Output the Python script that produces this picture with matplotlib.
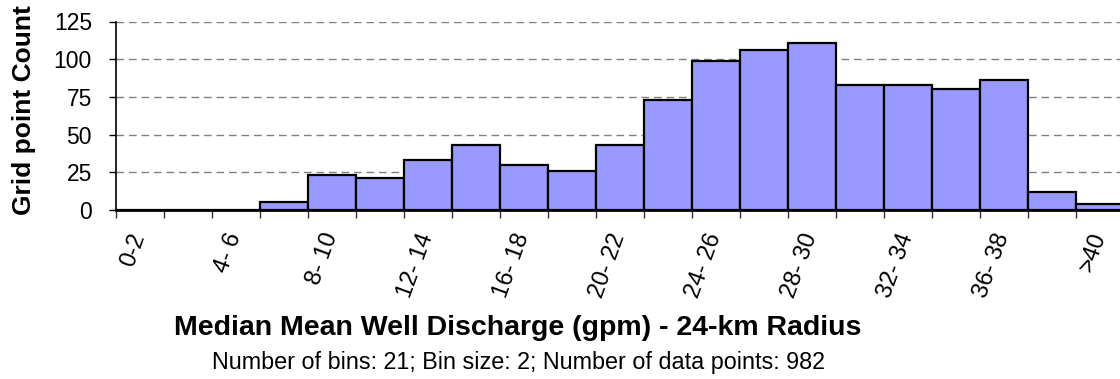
import numpy as np
import matplotlib
matplotlib.use("Agg")
import matplotlib.pyplot as plt

# bin labels and counts
bin_labels = ["0-2", "2- 4", "4- 6", "6- 8", "8- 10", "10- 12", "12- 14", "14- 16",
              "16- 18", "18- 20", "20- 22", "22- 24", "24- 26", "26- 28", "28- 30",
              "30- 32", "32- 34", "34- 36", "36- 38", "38- 40", ">40"]
counts = [0, 0, 0, 5, 23, 21, 33, 43, 30, 26, 43, 73, 99, 106, 111, 83, 83, 80, 86, 12, 4]
y_ticks = [0, 25, 50, 75, 100, 125]

plt.rcParams['font.family'] = ['Liberation Sans', 'DejaVu Sans']

fig = plt.figure(figsize=(11.2, 3.79), dpi=100)
ax = fig.add_axes([115.5 / 1120, 169 / 379, 1008 / 1120, 188.5 / 379])

x = np.arange(len(counts))
ax.bar(x, counts, width=1.0, align='edge', color='#9999FF',
       edgecolor='black', linewidth=1.6, zorder=3)

ax.set_xlim(0, len(counts))
ax.set_ylim(0, 125)

# grid
ax.set_yticks(y_ticks)
ax.yaxis.grid(True, linestyle=(0, (5.5, 3.5)), color='#808080', linewidth=1.0, zorder=0)
ax.tick_params(axis='y', length=5, width=1, labelsize=16.5, pad=12, colors='black')

# x ticks: marks at bin edges, labels on every other bin centre
ax.set_xticks(np.arange(len(counts) + 1), minor=True)
ax.set_xticks(x[::2] + 0.5)
ax.set_xticklabels(bin_labels[::2], rotation=70, ha='right', va='center',
                   rotation_mode='anchor', fontsize=17)
ax.tick_params(axis='x', which='major', length=0, pad=17)
ax.tick_params(axis='x', which='minor', length=6, width=1, color='#333333')

for s in ['top', 'right']:
    ax.spines[s].set_visible(False)
ax.spines['left'].set_linewidth(1.2)
ax.spines['bottom'].set_linewidth(2.0)
ax.spines['bottom'].set_zorder(4)

fig.text(24 / 1120, 1 - 110 / 379, "Grid point Count", rotation=90, ha='center',
         va='center', fontsize=19, fontweight='bold')
fig.text(518 / 1120, 1 - 328 / 379, "Median Mean Well Discharge (gpm) - 24-km Radius",
         ha='center', va='center', fontsize=20.5, fontweight='bold')
fig.text(519 / 1120, 1 - 362 / 379, "Number of bins: 21; Bin size: 2; Number of data points: 982",
         ha='center', va='center', fontsize=16.8)

fig.savefig("out.png", dpi=100)
